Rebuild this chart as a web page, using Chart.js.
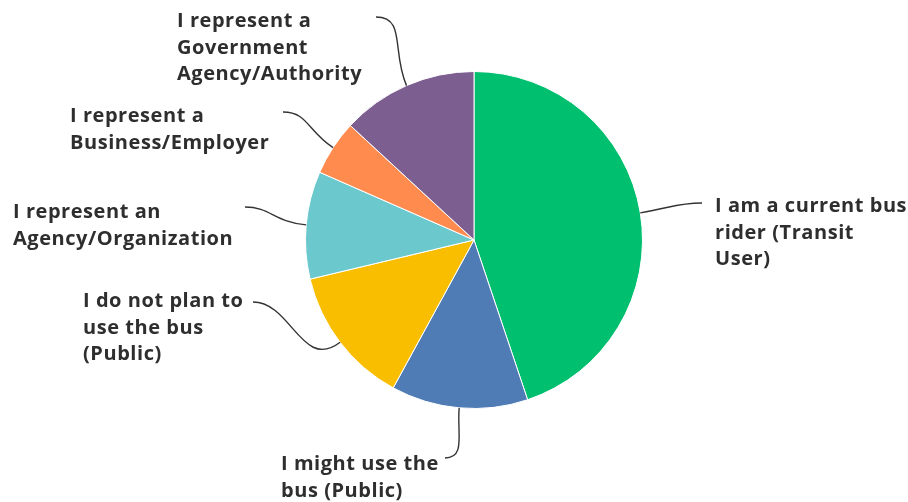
<!DOCTYPE html>
<html>
<head>
<meta charset="utf-8">
<script src="https://cdn.jsdelivr.net/npm/chart.js@4.4.1/dist/chart.umd.min.js"></script>
<style>
   html, body { margin: 0; padding: 0; background: #fff; }
   #wrap { width: 908px; height: 502px; }
</style>
</head>
<body>
<div id="wrap"><canvas id="pie" width="908" height="502"></canvas></div>
<script>
// data (percent of respondents)
const categories = [
   ['I am a current bus', 'rider (Transit', 'User)'],
   ['I might use the', 'bus (Public)'],
   ['I do not plan to', 'use the bus', '(Public)'],
   ['I represent an', 'Agency/Organization'],
   ['I represent a', 'Business/Employer'],
   ['I represent a', 'Government', 'Agency/Authority']
];
const percentages = [44.8, 13.1, 13.3, 10.3, 5.3, 13.1];

const sliceColors = ['#00bf6f', '#507cb6', '#f9be00', '#6bc8cd', '#ff8b4f', '#7d5e90'];

// where each label sits and where its leader line ends
const labelLayout = [
   { x: 715, y: 212, endX: 702, endY: 203 },
   { x: 281, y: 470, endX: 445, endY: 458 },
   { x: 83, y: 307, endX: 253, endY: 302 },
   { x: 13, y: 218, endX: 245, endY: 207 },
   { x: 70, y: 122, endX: 283, endY: 112 },
   { x: 177, y: 27, endX: 376, endY: 17 }
];

// draws the text labels and curved leaders
const leaderLabels = {
   id: 'leaderLabels',
   afterDraw(chart) {
      const ctx = chart.ctx;
      const arcs = chart.getDatasetMeta(0).data;
      ctx.save();
      arcs.forEach((arc, i) => {
         const lay = labelLayout[i];
         const mid = (arc.startAngle + arc.endAngle) / 2;
         const ux = Math.cos(mid), uy = Math.sin(mid);
         const sx = arc.x + ux * arc.outerRadius;
         const sy = arc.y + uy * arc.outerRadius;
         const dist = Math.hypot(lay.endX - sx, lay.endY - sy);
         const dir = lay.endX < arc.x ? 1 : -1;
         ctx.beginPath();
         ctx.moveTo(sx, sy);
         ctx.bezierCurveTo(
            sx + ux * dist * 0.5, sy + uy * dist * 0.5,
            lay.endX + dir * dist * 0.4, lay.endY,
            lay.endX, lay.endY
         );
         ctx.strokeStyle = '#333333';
         ctx.lineWidth = 1.4;
         ctx.stroke();

         ctx.fillStyle = '#2e2e2e';
         ctx.font = '700 20px "Open Sans", sans-serif';
         ctx.letterSpacing = '0.55px';
         ctx.textAlign = 'left';
         ctx.textBaseline = 'alphabetic';
         chart.data.labels[i].forEach((line, k) => {
            ctx.fillText(line, lay.x, lay.y + k * 26.7);
         });
      });
      ctx.restore();
   }
};

const pie = document.getElementById('pie');
new Chart(pie, {
   type: 'pie',
   data: {
      labels: categories,
      datasets: [{
         data: percentages,
         backgroundColor: sliceColors,
         borderColor: '#ffffff',
         borderWidth: 1
      }]
   },
   options: {
      responsive: false,
      animation: false,
      layout: {
         padding: { left: 305, right: 265, top: 71, bottom: 93 }
      },
      plugins: {
         legend: { display: false },
         tooltip: { enabled: false }
      }
   },
   plugins: [leaderLabels]
});
</script>
</body>
</html>
